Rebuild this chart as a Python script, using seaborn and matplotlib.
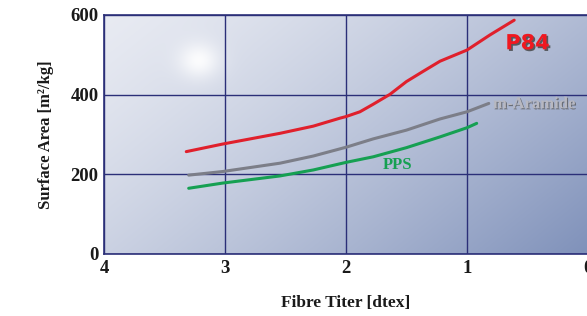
import numpy as np
import pandas as pd
import matplotlib
matplotlib.use("Agg")
import matplotlib.pyplot as plt
import matplotlib.patheffects as pe
import seaborn as sns

# ---- data ----
p84_x = [3.32, 3.02, 2.545, 2.27, 2.05, 2.0, 1.885, 1.775, 1.636, 1.5, 1.36, 1.223, 1.0, 0.81, 0.61]
p84_y = [257, 276, 303, 321, 341, 345, 357, 376, 401, 433, 459, 484, 512, 550, 587]
ara_x = [3.30, 3.02, 2.545, 2.27, 2.0, 1.775, 1.5, 1.223, 1.0, 0.82]
ara_y = [198, 207, 228, 246, 268, 289, 311, 339, 357, 378]
pps_x = [3.30, 3.02, 2.545, 2.27, 2.0, 1.775, 1.5, 1.223, 1.0, 0.92]
pps_y = [165, 178, 196, 211, 230, 244, 267, 294, 317, 328]
x_ticks = [4, 3, 2, 1, 0]
y_ticks = [0, 200, 400, 600]

sns.set_theme(style="white")
plt.rcParams['font.family'] = ['Liberation Serif', 'DejaVu Serif']

fig = plt.figure(figsize=(5.87, 3.16), dpi=100)
ax = fig.add_axes([104/587, 1-254/316, 484/587, 239/316])

# background gradient
nx, ny = 300, 200
gx = np.linspace(0, 1, nx)[None, :]
gy = np.linspace(0, 1, ny)[:, None]  # 0 top, 1 bottom
t = np.clip(0.62*gx + 0.38*gy, 0, 1) ** 1.3
c0 = np.array([0.91, 0.92, 0.95])
c1 = np.array([0.50, 0.57, 0.73])
img = c0[None, None, :]*(1-t[..., None]) + c1[None, None, :]*t[..., None]
# glow
X, Y = np.meshgrid(np.linspace(4, 0, nx), np.linspace(600, 0, ny))
g = 0.9*np.exp(-(((X-3.22)/0.17)**2 + ((Y-487)/45)**2))
img = img*(1-g[..., None]) + np.ones(3)[None, None, :]*g[..., None]
ax.imshow(img, extent=[4, 0, 0, 600], aspect='auto', zorder=0, interpolation='bilinear')

df = pd.concat([
    pd.DataFrame({'x': p84_x, 'y': p84_y, 's': 'P84'}),
    pd.DataFrame({'x': ara_x, 'y': ara_y, 's': 'm-Aramide'}),
    pd.DataFrame({'x': pps_x, 'y': pps_y, 's': 'PPS'}),
])
pal = {'P84': '#e0202c', 'm-Aramide': '#7c7e88', 'PPS': '#16a052'}
sns.lineplot(data=df, x='x', y='y', hue='s', palette=pal, lw=2.2, ax=ax,
             legend=False, zorder=3)

ax.set_xlim(4, 0)
ax.set_ylim(0, 600)
ax.set_xticks(x_ticks)
ax.set_yticks(y_ticks)
ax.grid(True, color='#2b2f78', lw=1.0, zorder=1)
ax.set_axisbelow(False)
for sp in ax.spines.values():
    sp.set_color('#2b2f78')
    sp.set_linewidth(1.2)
ax.tick_params(length=0, labelsize=13.5, pad=4, colors='#1a1a1a')
for lab in ax.get_xticklabels() + ax.get_yticklabels():
    lab.set_fontweight('bold')
ax.set_xlabel('Fibre Titer [dtex]', fontsize=12.5, fontweight='bold', labelpad=13, color='#1a1a1a')
ax.set_ylabel('Surface Area [m²/kg]', fontsize=12, fontweight='bold', labelpad=12, color='#1a1a1a')

ax.text(0.50, 529, 'P84', color='#f01820', fontsize=15, fontweight='heavy',
        family='DejaVu Sans', ha='center', va='center', zorder=4,
        path_effects=[pe.withSimplePatchShadow(offset=(1.2, -1.2), shadow_rgbFace='#404040', alpha=0.8)])
ax.text(0.785, 376, 'm-Aramide', color='#b8b8c0', fontsize=12, fontweight='bold',
        ha='left', va='center', zorder=4,
        path_effects=[pe.withSimplePatchShadow(offset=(0.8, -0.8), shadow_rgbFace='#505050', alpha=0.7)])
ax.text(1.70, 223, 'PPS', color='#16a052', fontsize=12, fontweight='bold',
        ha='left', va='center', zorder=4)

fig.savefig('out.png', dpi=100)
